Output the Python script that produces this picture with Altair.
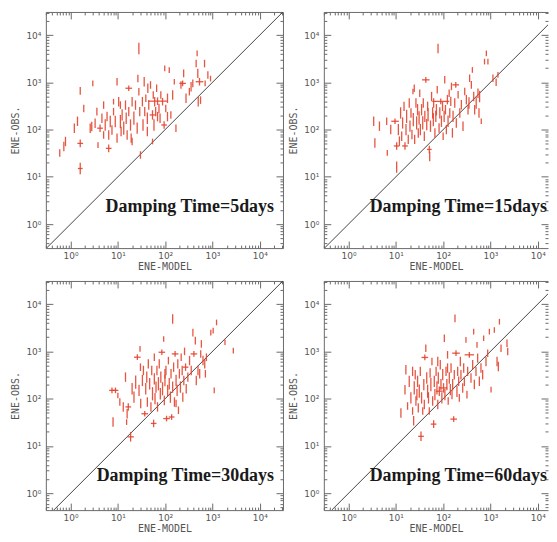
import altair as alt
import pandas as pd

# ---------------- data: (ENE-MODEL, ENE-OBS, obs error [dex], model error [dex]) ----------------
p5 = [(0.59,32,.08,0),(0.72,44,.1,0),(0.78,56,.1,0),(1.6,660,.08,0),(1.4,150,.1,0),(1.2,107,.1,0),(1.6,51,.08,.06),(1.6,15,.12,.05),(1.9,280,.08,0),(2.95,950,.06,0),(2.8,116,.1,0),(2.6,107,.1,0),(3.3,136,.1,0),(3.6,240,.08,0),(3.8,47,.06,0),(4.2,107,.08,.06),(4.6,174,.1,0),(5,330,.08,0),(5.4,125,.12,0),(5.9,190,.1,0),(6.4,40,.08,.06),(6.4,77,.1,0),(6.9,148,.12,0),(7.5,98,.1,0),(8.1,240,.08,0),(8.8,148,.12,0),(9.6,1030,.08,0),(9.6,66,.1,0),(10.4,390,.1,0),(11.3,148,.14,0),(11.7,91,.1,0),(12.3,204,.12,0),(13.3,107,.14,0),(14.5,330,.1,0),(15,174,.12,0),(15.7,77,.1,0),(17,750,.06,.07),(17,240,.1,0),(18.5,125,.12,0),(19.1,66,.1,0),(20,390,.1,0),(21.8,174,.14,0),(23.6,330,.1,0),(25.6,107,.12,0),(26.5,1210,.08,0),(27.8,5200,.12,0),(27.8,635,.08,0),(29,240,.1,0),(30,29,.08,0),(33,390,.1,0),(34,125,.12,0),(36,1030,.1,0),(37,240,.1,0),(39,460,.08,0),(42,174,.12,0),(43,750,.1,0),(45,330,.1,0),(49,880,.08,0),(54,204,.1,.06),(56,540,.08,0),(58,125,.12,0),(60,390,.1,0),(63,240,.1,0),(66,750,.08,0),(69,400,.08,.2),(74,280,.1,0),(78,174,.1,0),(81,540,.08,0),(88,390,.08,0),(95,125,.08,.06),(98,1980,.06,0),(103,280,.08,0),(112,460,.1,0),(122,1820,.06,0),(132,204,.08,0),(144,540,.1,0),(156,1030,.06,0),(169,107,.08,0),(216,880,.08,0),(234,950,.06,.07),(246,1550,.08,0),(276,460,.1,0),(325,635,.08,0),(353,810,.1,0),(384,950,.08,0),(452,2500,.08,0),(474,4100,.06,0),(490,1550,.1,0),(532,1030,.08,.08),(560,420,.08,0),(680,2500,.08,0),(700,950,.06,0),(800,1430,.08,0),(910,1200,.06,0),(54,56,.06,0),(500,390,.1,0),(112,188,.1,0),(69,188,.1,0),(42,91,.1,0),(11.3,330,.08,0),(20,56,.08,0),(8.1,390,.06,0),(5,77,.08,0)]

p15 = [(3.4,150,.1,0),(3.6,52,.1,0),(4.5,118,.1,0),(6.4,150,.08,0),(6.6,32,.06,0),(7.8,100,.1,0),(9.6,150,.06,.08),(10.4,16,.12,0),(10.4,45,.08,.06),(11.3,100,.12,0),(11.9,57,.1,0),(12.6,225,.12,0),(13.3,72,.1,0),(13.9,138,.12,0),(14.9,310,.1,0),(15.6,45,.08,.06),(16.4,100,.12,0),(16.9,190,.14,0),(18.3,62,.1,0),(19.2,365,.1,0),(19.9,118,.12,0),(20.9,225,.1,0),(21.9,79,.1,0),(23.4,162,.14,0),(24.5,750,.08,0),(25,62,.1,0),(26.6,365,.1,0),(27.5,138,.14,0),(28.8,263,.12,0),(29.8,85,.1,0),(31,176,.14,0),(32,590,.08,0),(33,100,.12,0),(35,263,.12,0),(37,138,.14,0),(38,365,.1,0),(40,72,.1,0),(41,190,.12,0),(43,1130,.06,.08),(45,127,.12,0),(47,310,.1,0),(48,207,.14,0),(51,38,.08,.05),(52,27,.1,0),(54,118,.12,0),(57,500,.1,0),(60,225,.12,0),(62,162,.14,0),(63,365,.1,0),(67,85,.1,0),(70,190,.12,0),(72,263,.12,0),(75,700,.08,0),(78,5200,.1,0),(82,108,.1,0),(85,225,.12,0),(89,395,.06,.18),(92,150,.12,0),(97,310,.1,0),(100,72,.08,0),(105,190,.12,0),(108,1130,.08,0),(112,263,.1,0),(117,100,.1,0),(123,430,.1,0),(127,150,.12,0),(134,590,.08,0),(138,225,.1,0),(145,395,.1,0),(150,820,.08,0),(157,85,.1,0),(162,190,.12,0),(176,365,.1,0),(185,885,.06,.07),(190,138,.1,0),(207,545,.08,0),(225,225,.1,0),(243,336,.1,0),(263,118,.1,0),(286,640,.08,0),(310,430,.1,0),(336,263,.1,0),(352,365,.12,0),(363,1220,.08,0),(395,885,.08,0),(415,1830,.06,0),(443,500,.1,0),(464,263,.1,0),(500,365,.12,0),(545,590,.1,0),(573,225,.1,0),(590,500,.12,0),(640,150,.06,0),(750,2750,.06,0),(820,4100,.06,0),(885,2750,.06,0),(1130,1220,.08,0),(1320,1000,.08,0),(1440,1440,.06,0),(23,640,.06,0)]

p30 = [(7.5,150,.06,.06),(8.9,150,.06,.06),(7.9,32,.1,0),(10,117,.06,0),(11,85,.08,0),(13,67,.1,0),(14.5,286,.1,0),(15.3,32,.06,0),(15.7,48,.1,0),(16.6,67,.08,.06),(18.6,15.6,.1,.07),(20,162,.12,0),(21.9,108,.12,0),(23.8,225,.14,0),(25.8,754,.06,.07),(28,150,.12,0),(29.4,1130,.06,0),(30.4,79,.1,0),(33,243,.12,0),(34.7,395,.1,0),(37,48,.06,.07),(38.8,162,.12,0),(40.8,286,.12,0),(42,85,.1,0),(44,545,.1,0),(47,207,.12,0),(50,67,.1,0),(52,395,.1,0),(54,127,.14,0),(57,30,.08,.06),(59,263,.12,0),(61,100,.12,0),(64,176,.12,0),(67,395,.1,0),(69,67,.1,0),(72,207,.14,0),(75,545,.1,0),(79,127,.12,0),(81,286,.12,0),(85,960,.06,.07),(88,162,.14,0),(93,1830,.06,0),(96,92,.1,0),(99,243,.12,0),(104,395,.1,0),(107,38,.06,.07),(113,150,.12,0),(117,640,.08,0),(122,207,.12,0),(129,108,.12,0),(133,336,.1,0),(137,41,.06,.06),(144,176,.12,0),(151,464,.1,0),(157,85,.1,0),(162,885,.06,.07),(170,243,.12,0),(179,150,.12,0),(185,545,.1,0),(191,57,.08,0),(200,336,.1,0),(210,176,.12,0),(218,754,.08,0),(229,395,.1,0),(236,108,.1,0),(248,243,.1,0),(257,1000,.08,0),(270,464,.08,.06),(279,162,.1,0),(302,286,.1,0),(328,640,.1,0),(356,395,.1,0),(386,2500,.08,0),(405,885,.06,.07),(434,1690,.08,0),(455,243,.1,0),(494,395,.1,0),(537,336,.1,0),(565,885,.08,0),(583,1440,.08,0),(631,640,.1,0),(687,545,.1,0),(709,336,.08,0),(745,754,.08,0),(923,2500,.06,0),(1035,2750,.06,0),(1090,150,.06,0),(1220,4100,.06,0),(1840,1560,.06,0),(2760,1040,.06,0),(144,4830,.1,0),(99,336,.1,0),(59,754,.08,0),(30,464,.08,0),(170,79,.08,0)]

p60 = [(12.8,50,.1,0),(16.3,410,.1,0),(15.6,155,.1,0),(17.7,70,.08,0),(19.2,233,.12,0),(20.8,104,.12,0),(22.6,55,.08,0),(23.8,34,.1,0),(24.5,169,.14,0),(25.7,322,.1,0),(26.6,89,.1,0),(27.9,122,.12,0),(28.8,233,.12,0),(29.8,64,.1,0),(31.3,144,.14,0),(32.9,378,.1,0),(34,16,.1,.06),(35,104,.12,0),(37,55,.08,0),(39,199,.12,0),(40,75,.1,0),(41,745,.06,.07),(43,1170,.08,0),(45,274,.12,0),(47,144,.14,0),(49,104,.12,0),(51,55,.08,0),(53,349,.1,0),(55,199,.14,0),(58,614,.08,0),(60,89,.1,0),(63,29,.08,.06),(65,233,.12,0),(67,122,.12,0),(71,378,.1,0),(74,169,.14,0),(77,75,.1,0),(79,274,.12,0),(83,144,.1,.07),(87,523,.1,0),(90,199,.12,0),(94,104,.12,0),(98,322,.12,0),(102,169,.1,.08),(106,1900,.08,0),(109,122,.12,0),(115,378,.1,0),(120,199,.12,0),(124,847,.08,0),(128,89,.08,0),(135,274,.12,0),(142,156,.12,0),(147,444,.1,0),(154,122,.1,0),(159,199,.12,0),(167,37,.06,.07),(172,322,.1,0),(178,5000,.08,0),(187,918,.06,.08),(196,144,.12,0),(203,378,.1,0),(213,233,.1,0),(220,104,.08,0),(231,614,.1,0),(238,322,.1,0),(259,169,.1,0),(272,444,.1,0),(281,233,.1,0),(304,1750,.06,0),(319,122,.08,0),(330,378,.1,0),(358,847,.06,.1),(388,274,.1,0),(421,523,.1,0),(442,2620,.06,0),(457,199,.1,0),(495,378,.1,0),(520,1375,.06,0),(537,721,.1,0),(583,233,.1,0),(631,444,.1,0),(685,322,.1,0),(719,1900,.06,0),(806,614,.1,0),(875,918,.08,0),(949,2620,.06,0),(1030,156,.06,0),(1210,2840,.06,0),(1380,614,.1,0),(1470,482,.1,0),(1550,4250,.06,0),(1675,1170,.08,0),(2240,1490,.08,0),(2320,1000,.08,0),(124,444,.1,0),(77,614,.1,0),(22.6,378,.1,0)]

labels = ["Damping Time=5days", "Damping Time=15days", "Damping Time=30days", "Damping Time=60days"]

# axis ranges (log scale); right column and bottom row are cropped like the source image
x_domain_left = [0.3, 31000]
x_domain_right = [0.3, 16500]
y_domain_top = [0.31, 30900]
y_domain_bottom = [0.44, 30900]
major_ticks = [1, 10, 100, 1000, 10000]
major_text = ["10\u2070", "10\u00b9", "10\u00b2", "10\u00b3", "10\u2074"]
minor_all = [m * 10 ** e for e in range(-1, 5) for m in range(2, 10)]

RED = "#e4432c"
GREY = "#6a6a6a"

label_expr = " : ".join(
    f"datum.value == {v} ? '{t}'" for v, t in zip(major_ticks[:-1], major_text[:-1])
) + f" : '{major_text[-1]}'"


def axis(orient, values, size, labels=False, title=None):
    kw = dict(orient=orient, values=values, tickSize=size, offset=-size,
              domain=False, grid=False, labels=labels, tickColor=GREY,
              tickWidth=1, title=title, minExtent=0)
    vertical = orient in ("left", "right")
    if labels:
        kw.update(labelExpr=label_expr, labelFont="DejaVu Sans", labelFontSize=9,
                  labelColor="#555", labelPadding=5 if vertical else 3)
    else:
        kw.update(maxExtent=0)
    if title:
        kw.update(titleFont="DejaVu Sans Mono", titleFontSize=10,
                  titleFontWeight="normal", titleColor="#555",
                  titlePadding=5 if vertical else 1)
    return alt.Axis(**kw)


def frame_axis(orient, show=True):
    return alt.Axis(orient=orient, domain=show, domainColor=GREY, domainWidth=1,
                    ticks=False, labels=False, grid=False, title=None,
                    minExtent=0, maxExtent=0)


def panel(points, label, x_domain, y_domain, right_frame, width, height):
    df = pd.DataFrame(points, columns=["model", "obs", "ey", "ex"])
    sx = alt.Scale(type="log", domain=x_domain, nice=False)
    sy = alt.Scale(type="log", domain=y_domain, nice=False)
    minor_x = [v for v in minor_all if x_domain[0] <= v <= x_domain[1]]
    minor_y = [v for v in minor_all if y_domain[0] <= v <= y_domain[1]]
    base = alt.Chart(df).transform_calculate(
        obs_lo="datum.obs / pow(10, datum.ey)",
        obs_hi="datum.obs * pow(10, datum.ey)",
        mod_lo="datum.model / pow(10, datum.ex)",
        mod_hi="datum.model * pow(10, datum.ex)",
    )
    vert = base.mark_rule(color=RED, strokeWidth=1.3, opacity=0.9).encode(
        x=alt.X("model:Q", scale=sx, axis=axis("bottom", major_ticks, 7, True, "ENE-MODEL")),
        y=alt.Y("obs_lo:Q", scale=sy, axis=axis("left", major_ticks, 7, True, "ENE-OBS.")),
        y2="obs_hi:Q",
    )
    horiz = base.transform_filter("datum.ex > 0").mark_rule(
        color=RED, strokeWidth=1.3, opacity=0.9).encode(
        x=alt.X("mod_lo:Q", scale=sx, axis=axis("top", major_ticks, 7)),
        x2="mod_hi:Q",
        y=alt.Y("obs:Q", scale=sy, axis=axis("right", major_ticks, 7)),
    )
    # y = x reference line over the part visible in both ranges
    lo = max(x_domain[0], y_domain[0])
    hi = min(x_domain[1], y_domain[1])
    ddf = pd.DataFrame({"v": [lo, hi]})
    diag = alt.Chart(ddf).mark_line(color="#444", strokeWidth=1, clip=True).encode(
        x=alt.X("v:Q", scale=sx, axis=axis("bottom", minor_x, 3)),
        y=alt.Y("v:Q", scale=sy, axis=axis("left", minor_y, 3)),
    )
    diag2 = alt.Chart(ddf).mark_line(opacity=0, clip=True).encode(
        x=alt.X("v:Q", scale=sx, axis=axis("top", minor_x, 3)),
        y=alt.Y("v:Q", scale=sy, axis=axis("right", minor_y, 3)),
    )
    frame1 = alt.Chart(ddf).mark_line(opacity=0, clip=True).encode(
        x=alt.X("v:Q", scale=sx, axis=frame_axis("bottom")),
        y=alt.Y("v:Q", scale=sy, axis=frame_axis("left")),
    )
    frame2 = alt.Chart(ddf).mark_line(opacity=0, clip=True).encode(
        x=alt.X("v:Q", scale=sx, axis=frame_axis("top")),
        y=alt.Y("v:Q", scale=sy, axis=frame_axis("right", right_frame)),
    )
    txt = alt.Chart(pd.DataFrame({"t": [label]})).mark_text(
        align="right", baseline="alphabetic", font="Liberation Serif",
        fontSize=18, fontWeight="bold", color="#1a1a1a").encode(
        x=alt.value(229 if right_frame else width - 1), y=alt.value(201), text="t:N")
    return alt.layer(frame1, frame2, diag, diag2, vert, horiz, txt).resolve_axis(
        x="independent", y="independent").properties(width=width, height=height)


panels = [
    panel(p5, labels[0], x_domain_left, y_domain_top, True, 238, 237),
    panel(p15, labels[1], x_domain_right, y_domain_top, False, 225, 237),
    panel(p30, labels[2], x_domain_left, y_domain_bottom, True, 238, 230),
    panel(p60, labels[3], x_domain_right, y_domain_bottom, False, 225, 230),
]

chart = alt.concat(*panels, columns=2, spacing=alt.RowColnumber(row=33, column=41),
                   bounds="flush").properties(
    padding={"left": 2, "top": 2, "right": 0, "bottom": 0}
).configure_view(strokeWidth=0)

chart.save("out.html", embed_options={"renderer": "svg", "actions": False})
